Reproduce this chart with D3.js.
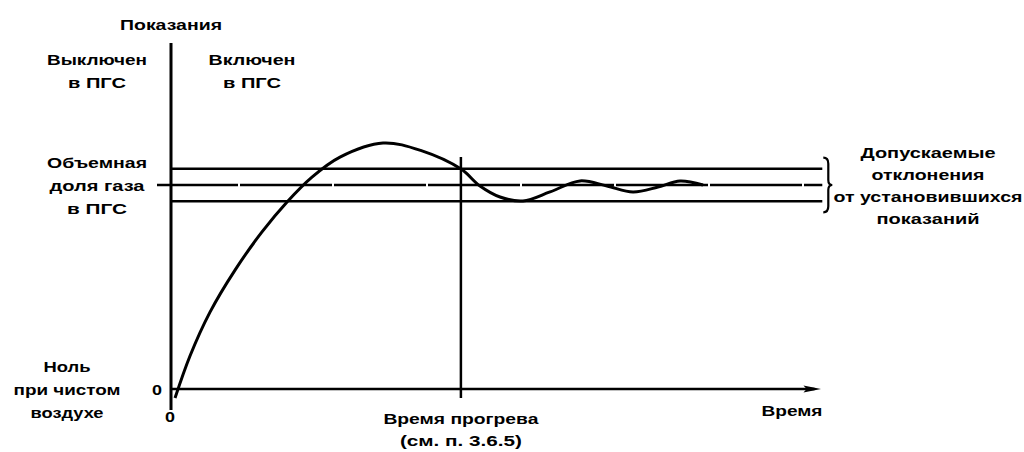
<!DOCTYPE html>
<html>
<head>
<meta charset="utf-8">
<script src="https://cdn.jsdelivr.net/npm/d3@7"></script>
<style>
body { margin: 0; background: #fff; }
text { font-family: "Liberation Sans", Arial, sans-serif; font-weight: bold; font-size: 14px; fill: #000; }
</style>
</head>
<body>
<svg id="chart" width="1024" height="452"></svg>
<script>
// response curve of the gas analyser (time, reading); 1 = steady reading
const curveTime = [0.62, 2.92, 6.0, 9.85, 14.0, 17.85, 21.69, 26.0, 32.62, 38.62, 44.62, 47.54, 50.62, 54.15, 58.31, 62.92, 67.08, 71.08, 74.92, 78.31, 81.85];
const curveReading = [-0.044, 0.162, 0.377, 0.583, 0.770, 0.917, 1.039, 1.137, 1.206, 1.167, 1.078, 0.995, 0.941, 0.922, 0.966, 1.02, 0.995, 0.966, 0.99, 1.02, 1.0];
const steadyReading = 1.0;
const tolerance = 0.08;
const warmupTime = 44.6;

const topLabels = ["Показания"];
const offLabel = ["Выключен", "в ПГС"];
const onLabel = ["Включен", "в ПГС"];
const fractionLabel = ["Объемная", "доля газа", "в ПГС"];
const zeroLabel = ["Ноль", "при чистом", "воздухе"];
const warmupLabel = ["Время прогрева", "(см. п. 3.6.5)"];
const toleranceLabel = ["Допускаемые", "отклонения", "от установившихся", "показаний"];
const timeLabel = "Время";

const svg = d3.select("#chart");

let x = d3.scaleLinear().domain([0, 100]).range([171, 821]);
let y = d3.scaleLinear().domain([0, 1]).range([389, 185]);

// axes
svg.append("line")
.attr("x1", x(0)).attr("x2", x(0))
.attr("y1", 43).attr("y2", 410)
.attr("stroke", "#000").attr("stroke-width", 3);

svg.append("line")
.attr("x1", x(0)).attr("x2", x(99))
.attr("y1", y(0)).attr("y2", y(0))
.attr("stroke", "#000").attr("stroke-width", 2.5);

svg.append("path")
.attr("d", `M${x(100)},${y(0)} L${x(97.3)},${y(0) - 3.5} L${x(97.8)},${y(0)} L${x(97.3)},${y(0) + 3.5} Z`)
.attr("fill", "#000");

// tolerance band
svg.selectAll(".band")
.data([steadyReading + tolerance, steadyReading - tolerance])
.join("line")
.attr("class", "band")
.attr("x1", x(0)).attr("x2", x(100.2))
.attr("y1", d => y(d)).attr("y2", d => y(d))
.attr("stroke", "#000").attr("stroke-width", 2.5);

svg.append("line")
.attr("x1", x(0) - 14).attr("x2", x(100.2))
.attr("y1", y(steadyReading)).attr("y2", y(steadyReading))
.attr("stroke", "#000").attr("stroke-width", 2.5)
.attr("stroke-dasharray", "92,2")
.attr("stroke-dashoffset", 11);

// warm-up time marker
svg.append("line")
.attr("x1", x(warmupTime)).attr("x2", x(warmupTime))
.attr("y1", 157).attr("y2", 398)
.attr("stroke", "#000").attr("stroke-width", 2.5);

// brace
let bx = x(100.2) + 1;
let yt = y(steadyReading + tolerance) - 11, yb = y(steadyReading - tolerance) + 11, ym = y(steadyReading);
svg.append("path")
.attr("d", `M${bx},${yt} Q${bx + 5},${yt} ${bx + 5},${yt + 6} L${bx + 5},${ym - 5} Q${bx + 5},${ym} ${bx + 9},${ym} Q${bx + 5},${ym} ${bx + 5},${ym + 5} L${bx + 5},${yb - 6} Q${bx + 5},${yb} ${bx},${yb}`)
.attr("fill", "none").attr("stroke", "#000").attr("stroke-width", 2.2);

// response curve
let pts = curveTime.map((t, i) => [t, curveReading[i]]);
let line = d3.line()
.x(d => x(d[0]))
.y(d => y(d[1]))
.curve(d3.curveCatmullRom.alpha(0.5));

svg.append("path")
.datum(pts)
.attr("d", line)
.attr("fill", "none")
.attr("stroke", "#000")
.attr("stroke-width", 3);

// labels: lines, centre x, first baseline, line step, widths
function label(lines, cx, by, step, widths) {
	svg.append("g")
	.selectAll("text")
	.data(lines)
	.join("text")
	.attr("x", cx)
	.attr("y", (d, i) => by + i * step)
	.attr("text-anchor", "middle")
	.attr("textLength", (d, i) => widths[i])
	.attr("lengthAdjust", "spacingAndGlyphs")
	.text(d => d);
}

label(topLabels, 171, 30, 0, [102]);
label(offLabel, 97, 65, 23, [100, 58]);
label(onLabel, 252, 65, 23, [87, 58]);
label(fractionLabel, 97, 168, 23, [100, 95, 60]);
label(zeroLabel, 67, 372, 23, [47, 107, 73]);
label(warmupLabel, x(warmupTime), 424, 22, [155, 122]);
label(toleranceLabel, 928, 158, 22, [135, 113, 189, 103]);
label([timeLabel], 792, 416, 0, [61]);
label(["0"], 157, 395, 0, [10]);
label(["0"], 170, 422, 0, [10]);
</script>
</body>
</html>
